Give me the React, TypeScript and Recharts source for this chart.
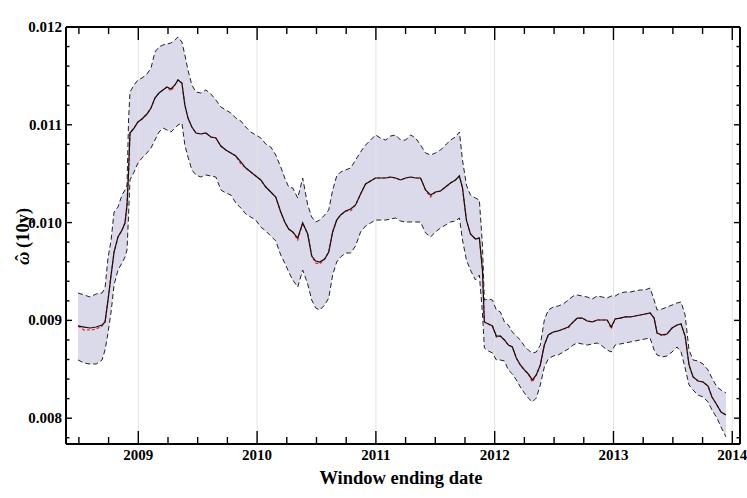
import React from 'react';
import { ComposedChart, XAxis, YAxis, Area, Line, ReferenceLine } from 'recharts';

// Window ending date (decimal years)
const dates = [
  2008.493, 2008.544, 2008.594, 2008.645, 2008.695, 2008.720, 2008.745, 2008.771, 2008.796, 2008.829,
  2008.863, 2008.888, 2008.905, 2008.918, 2008.930, 2008.964, 2008.997, 2009.031, 2009.073, 2009.107,
  2009.140, 2009.174, 2009.208, 2009.241, 2009.275, 2009.308, 2009.334, 2009.367, 2009.392, 2009.418,
  2009.451, 2009.485, 2009.527, 2009.569, 2009.611, 2009.653, 2009.695, 2009.737, 2009.779, 2009.821,
  2009.863, 2009.905, 2009.947, 2009.989, 2010.031, 2010.073, 2010.115, 2010.157, 2010.199, 2010.233,
  2010.266, 2010.300, 2010.342, 2010.384, 2010.426, 2010.460, 2010.493, 2010.527, 2010.569, 2010.603,
  2010.636, 2010.670, 2010.703, 2010.745, 2010.787, 2010.829, 2010.871, 2010.913, 2010.955, 2010.997,
  2011.039, 2011.082, 2011.124, 2011.166, 2011.208, 2011.250, 2011.292, 2011.334, 2011.376, 2011.418,
  2011.460, 2011.502, 2011.544, 2011.586, 2011.628, 2011.670, 2011.703, 2011.729, 2011.762, 2011.796,
  2011.838, 2011.871, 2011.897, 2011.913, 2011.947, 2011.981, 2012.014, 2012.048, 2012.082, 2012.115,
  2012.149, 2012.182, 2012.216, 2012.250, 2012.283, 2012.317, 2012.350, 2012.384, 2012.418, 2012.451,
  2012.493, 2012.535, 2012.577, 2012.619, 2012.661, 2012.695, 2012.737, 2012.779, 2012.821, 2012.863,
  2012.905, 2012.947, 2012.981, 2013.014, 2013.056, 2013.098, 2013.140, 2013.182, 2013.224, 2013.266,
  2013.308, 2013.342, 2013.367, 2013.409, 2013.451, 2013.493, 2013.535, 2013.569, 2013.603, 2013.636,
  2013.670, 2013.712, 2013.754, 2013.796, 2013.829, 2013.871, 2013.905, 2013.947,
];

// omega-hat estimate (black solid)
const omegaMid = [
  0.008943, 0.008932, 0.008922, 0.008932, 0.008953, 0.008984, 0.009208, 0.009464, 0.009699, 0.009853,
  0.009924, 0.009996, 0.010180, 0.010517, 0.010916, 0.010967, 0.011029, 0.011059, 0.011110, 0.011172,
  0.011274, 0.011325, 0.011356, 0.011386, 0.011366, 0.011407, 0.011458, 0.011427, 0.011202, 0.011069,
  0.010977, 0.010916, 0.010906, 0.010916, 0.010875, 0.010865, 0.010783, 0.010742, 0.010712, 0.010681,
  0.010620, 0.010558, 0.010517, 0.010476, 0.010436, 0.010364, 0.010313, 0.010262, 0.010108, 0.010006,
  0.009934, 0.009904, 0.009842, 0.009996, 0.009883, 0.009658, 0.009607, 0.009597, 0.009628, 0.009699,
  0.009904, 0.010026, 0.010078, 0.010118, 0.010139, 0.010180, 0.010292, 0.010395, 0.010425, 0.010456,
  0.010456, 0.010456, 0.010466, 0.010456, 0.010436, 0.010456, 0.010466, 0.010456, 0.010456, 0.010333,
  0.010282, 0.010313, 0.010323, 0.010364, 0.010405, 0.010436, 0.010476, 0.010354, 0.010026, 0.009883,
  0.009832, 0.009842, 0.009515, 0.008984, 0.008963, 0.008943, 0.008840, 0.008840, 0.008800, 0.008748,
  0.008728, 0.008615, 0.008544, 0.008493, 0.008452, 0.008391, 0.008442, 0.008544, 0.008748, 0.008851,
  0.008881, 0.008892, 0.008912, 0.008932, 0.008984, 0.009024, 0.009024, 0.008994, 0.008984, 0.009004,
  0.009004, 0.009004, 0.008932, 0.009014, 0.009024, 0.009035, 0.009035, 0.009045, 0.009055, 0.009065,
  0.009076, 0.009024, 0.008871, 0.008851, 0.008861, 0.008922, 0.008953, 0.008963, 0.008840, 0.008544,
  0.008421, 0.008380, 0.008370, 0.008329, 0.008217, 0.008135, 0.008063, 0.008033,
];

// alternative estimate (red dashed)
const omegaAlt = [
  0.008943, 0.008901, 0.008902, 0.008911, 0.008943, 0.008984, 0.009208, 0.009464, 0.009699, 0.009853,
  0.009924, 0.009996, 0.010180, 0.010517, 0.010916, 0.010967, 0.011029, 0.011059, 0.011110, 0.011172,
  0.011274, 0.011325, 0.011356, 0.011386, 0.011346, 0.011407, 0.011458, 0.011427, 0.011202, 0.011069,
  0.010977, 0.010916, 0.010906, 0.010916, 0.010875, 0.010865, 0.010783, 0.010742, 0.010712, 0.010681,
  0.010600, 0.010558, 0.010517, 0.010476, 0.010436, 0.010364, 0.010313, 0.010262, 0.010108, 0.010006,
  0.009934, 0.009904, 0.009822, 0.009996, 0.009883, 0.009658, 0.009587, 0.009577, 0.009628, 0.009699,
  0.009904, 0.010026, 0.010078, 0.010118, 0.010119, 0.010180, 0.010292, 0.010395, 0.010425, 0.010456,
  0.010456, 0.010456, 0.010466, 0.010456, 0.010436, 0.010456, 0.010466, 0.010456, 0.010456, 0.010333,
  0.010262, 0.010313, 0.010323, 0.010364, 0.010405, 0.010436, 0.010476, 0.010354, 0.010026, 0.009883,
  0.009832, 0.009842, 0.009515, 0.008984, 0.008963, 0.008943, 0.008830, 0.008840, 0.008800, 0.008748,
  0.008728, 0.008615, 0.008544, 0.008493, 0.008452, 0.008370, 0.008442, 0.008544, 0.008748, 0.008851,
  0.008881, 0.008892, 0.008912, 0.008922, 0.008984, 0.009024, 0.009024, 0.008994, 0.008984, 0.009004,
  0.009004, 0.009004, 0.008912, 0.009014, 0.009024, 0.009035, 0.009035, 0.009045, 0.009055, 0.009065,
  0.009076, 0.009024, 0.008871, 0.008841, 0.008861, 0.008922, 0.008953, 0.008963, 0.008840, 0.008544,
  0.008421, 0.008380, 0.008370, 0.008329, 0.008217, 0.008135, 0.008063, 0.008033,
];

// confidence band upper edge
const bandUpper = [
  0.009280, 0.009260, 0.009239, 0.009270, 0.009280, 0.009331, 0.009638, 0.009822, 0.010108, 0.010159,
  0.010282, 0.010333, 0.010384, 0.011049, 0.011335, 0.011407, 0.011458, 0.011478, 0.011519, 0.011581,
  0.011744, 0.011796, 0.011816, 0.011826, 0.011836, 0.011867, 0.011898, 0.011846, 0.011714, 0.011560,
  0.011407, 0.011335, 0.011325, 0.011356, 0.011315, 0.011254, 0.011182, 0.011151, 0.011121, 0.011069,
  0.011039, 0.010977, 0.010926, 0.010896, 0.010865, 0.010804, 0.010773, 0.010691, 0.010568, 0.010456,
  0.010364, 0.010354, 0.010251, 0.010456, 0.010180, 0.010057, 0.010006, 0.010026, 0.010078, 0.010129,
  0.010333, 0.010476, 0.010517, 0.010538, 0.010558, 0.010640, 0.010722, 0.010793, 0.010844, 0.010896,
  0.010865, 0.010844, 0.010885, 0.010896, 0.010844, 0.010844, 0.010896, 0.010865, 0.010793, 0.010712,
  0.010691, 0.010712, 0.010742, 0.010793, 0.010844, 0.010875, 0.010926, 0.010640, 0.010384, 0.010282,
  0.010251, 0.010231, 0.009771, 0.009208, 0.009219, 0.009208, 0.009106, 0.009086, 0.008984, 0.008953,
  0.008881, 0.008840, 0.008800, 0.008738, 0.008697, 0.008667, 0.008677, 0.008748, 0.009004, 0.009106,
  0.009137, 0.009147, 0.009168, 0.009208, 0.009249, 0.009260, 0.009249, 0.009239, 0.009219, 0.009249,
  0.009239, 0.009229, 0.009249, 0.009249, 0.009280, 0.009290, 0.009290, 0.009301, 0.009311, 0.009311,
  0.009331, 0.009208, 0.009106, 0.009116, 0.009137, 0.009157, 0.009178, 0.009188, 0.009055, 0.008697,
  0.008595, 0.008585, 0.008554, 0.008493, 0.008411, 0.008319, 0.008288, 0.008258,
];

// confidence band lower edge
const bandLower = [
  0.008595, 0.008564, 0.008554, 0.008554, 0.008595, 0.008697, 0.008871, 0.009086, 0.009362, 0.009515,
  0.009587, 0.009648, 0.009720, 0.010078, 0.010436, 0.010517, 0.010609, 0.010660, 0.010712, 0.010763,
  0.010844, 0.010926, 0.010967, 0.010947, 0.010926, 0.010967, 0.010998, 0.011018, 0.010793, 0.010671,
  0.010538, 0.010487, 0.010466, 0.010487, 0.010476, 0.010466, 0.010333, 0.010303, 0.010282, 0.010200,
  0.010149, 0.010088, 0.010057, 0.010026, 0.009955, 0.009914, 0.009863, 0.009812, 0.009669, 0.009587,
  0.009495, 0.009413, 0.009341, 0.009515, 0.009372, 0.009208, 0.009127, 0.009106, 0.009157, 0.009229,
  0.009464, 0.009597, 0.009648, 0.009689, 0.009689, 0.009761, 0.009904, 0.009965, 0.009996, 0.010026,
  0.010026, 0.010026, 0.010037, 0.010047, 0.010016, 0.010006, 0.010006, 0.010006, 0.010006, 0.009894,
  0.009853, 0.009904, 0.009945, 0.009975, 0.010006, 0.010016, 0.010047, 0.009822, 0.009618, 0.009515,
  0.009413, 0.009464, 0.009076, 0.008718, 0.008687, 0.008667, 0.008595, 0.008595, 0.008585, 0.008493,
  0.008452, 0.008391, 0.008319, 0.008258, 0.008206, 0.008166, 0.008206, 0.008339, 0.008523, 0.008605,
  0.008636, 0.008646, 0.008677, 0.008707, 0.008748, 0.008769, 0.008759, 0.008748, 0.008759, 0.008769,
  0.008738, 0.008697, 0.008677, 0.008748, 0.008759, 0.008769, 0.008779, 0.008789, 0.008800, 0.008810,
  0.008820, 0.008697, 0.008646, 0.008626, 0.008636, 0.008677, 0.008728, 0.008677, 0.008513, 0.008339,
  0.008288, 0.008237, 0.008217, 0.008166, 0.008084, 0.008002, 0.007910, 0.007808,
];

// ticks
const xTicks = [
  2008.5, 2008.75, 2009, 2009.25, 2009.5, 2009.75, 2010, 2010.25, 2010.5, 2010.75, 2011, 2011.25,
  2011.5, 2011.75, 2012, 2012.25, 2012.5, 2012.75, 2013, 2013.25, 2013.5, 2013.75, 2014,
];
const yearLines = [2009, 2010, 2011, 2012, 2013, 2014];
const yTicks = [
  0.0078, 0.008, 0.0082, 0.0084, 0.0086, 0.0088, 0.009, 0.0092, 0.0094, 0.0096, 0.0098,
  0.01, 0.0102, 0.0104, 0.0106, 0.0108, 0.011, 0.0112, 0.0114, 0.0116, 0.0118, 0.012,
];
const yLabels = ['0.008', '0.009', '0.010', '0.011', '0.012'];

const data = dates.map((t, i) => ({
  t,
  mid: omegaMid[i],
  alt: omegaAlt[i],
  up: bandUpper[i],
  low: bandLower[i],
  band: [bandLower[i], bandUpper[i]],
}));

const SERIF = '"Liberation Serif", "DejaVu Serif", serif';
const X_DOMAIN: [number, number] = [2008.3914, 2014.065];
const Y_DOMAIN: [number, number] = [0.007736, 0.012];

const isYear = (v: number) => Math.abs(v - Math.round(v)) < 1e-6;
const isMajorY = (v: number) => Math.abs(v * 1000 - Math.round(v * 1000)) < 1e-6;

const BottomTick = (props: any) => {
  const { x, y, payload } = props;
  const v = payload.value;
  const major = isYear(v);
  const len = major ? 13 : 7;
  return (
    <g>
      <line x1={x} y1={y} x2={x} y2={y - len} stroke="#000" strokeWidth={1.4} />
      {major && (
        <text x={x} y={y + 16} textAnchor="middle" fontFamily={SERIF} fontWeight="bold" fontSize={15} fill="#000">
          {String(Math.round(v))}
        </text>
      )}
    </g>
  );
};

const TopTick = (props: any) => {
  const { x, y, payload } = props;
  const major = isYear(payload.value);
  const len = major ? 13 : 7;
  return <line x1={x} y1={y} x2={x} y2={y + len} stroke="#000" strokeWidth={1.4} />;
};

const LeftTick = (props: any) => {
  const { x, y, payload } = props;
  const v = payload.value;
  const major = isMajorY(v);
  const len = major ? 6 : 3.5;
  const label = major ? yLabels[Math.round(v * 1000) - 8] : null;
  return (
    <g>
      <line x1={x} y1={y} x2={x + len} y2={y} stroke="#000" strokeWidth={1.4} />
      {label && (
        <text x={x - 4} y={y + 5} textAnchor="end" fontFamily={SERIF} fontWeight="bold" fontSize={15} fill="#000">
          {label}
        </text>
      )}
    </g>
  );
};

const RightTick = (props: any) => {
  const { x, y, payload } = props;
  const major = isMajorY(payload.value);
  const len = major ? 6 : 3.5;
  return <line x1={x} y1={y} x2={x - len} y2={y} stroke="#000" strokeWidth={1.4} />;
};

const XTitle = () => (
  <text x={401} y={484} textAnchor="middle" fontFamily={SERIF} fontWeight="bold" fontSize={18.5} fill="#000">
    Window ending date
  </text>
);

// rotated y title: drawn horizontally, then rotated about (cx, cy)
const YTitle = () => {
  const cx = 29;
  const cy = 236;
  const x0 = cx - 29;
  return (
    <g transform={`rotate(-90 ${cx} ${cy})`}>
      <text x={x0} y={cy} fontFamily={SERIF} fontStyle="italic" fontWeight="bold" fontSize={18.5} fill="#000">
        {'\u03C9'}
      </text>
      <text x={x0 + 7} y={cy - 1} textAnchor="middle" fontFamily={SERIF} fontWeight="bold" fontSize={18.5} fill="#000">
        {'\u02C6'}
      </text>
      <text x={x0 + 17} y={cy} fontFamily={SERIF} fontWeight="bold" fontSize={18.5} fill="#000">
        (10y)
      </text>
    </g>
  );
};

export default function App() {
  return (
    <div style={{ position: 'absolute', left: 0, top: 0, width: 747, height: 498, background: '#fff' }}>
      <ComposedChart width={747} height={498} data={data} margin={{ top: 0, right: 0, bottom: 0, left: 0 }}>
        <XAxis
          xAxisId="b"
          dataKey="t"
          type="number"
          domain={X_DOMAIN}
          allowDataOverflow
          ticks={xTicks}
          interval={0}
          tick={(p: any) => <BottomTick {...p} />}
          tickLine={false}
          tickSize={0}
          tickMargin={0}
          axisLine={{ stroke: '#000', strokeWidth: 2 }}
          height={54}
          label={() => <XTitle />}
        />
        <XAxis
          xAxisId="t"
          orientation="top"
          dataKey="t"
          type="number"
          domain={X_DOMAIN}
          allowDataOverflow
          ticks={xTicks}
          interval={0}
          tick={(p: any) => <TopTick {...p} />}
          tickLine={false}
          tickSize={0}
          tickMargin={0}
          axisLine={{ stroke: '#000', strokeWidth: 2 }}
          height={27}
        />
        <YAxis
          yAxisId="l"
          type="number"
          domain={Y_DOMAIN}
          allowDataOverflow
          ticks={yTicks}
          interval={0}
          tick={(p: any) => <LeftTick {...p} />}
          tickLine={false}
          tickSize={0}
          tickMargin={0}
          axisLine={{ stroke: '#000', strokeWidth: 2 }}
          width={66}
          label={() => <YTitle />}
        />
        <YAxis
          yAxisId="r"
          orientation="right"
          type="number"
          domain={Y_DOMAIN}
          allowDataOverflow
          ticks={yTicks}
          interval={0}
          tick={(p: any) => <RightTick {...p} />}
          tickLine={false}
          tickSize={0}
          tickMargin={0}
          axisLine={{ stroke: '#000', strokeWidth: 2 }}
          width={7}
        />
        {yearLines.map((yr) => (
          <ReferenceLine key={yr} x={yr} xAxisId="b" yAxisId="l" stroke="#e4e4e4" strokeWidth={1} />
        ))}
        <Area
          xAxisId="b"
          yAxisId="l"
          dataKey="band"
          type="linear"
          stroke="none"
          fill="#dadaea"
          fillOpacity={1}
          isAnimationActive={false}
        />
        <Line xAxisId="b" yAxisId="l" dataKey="up" type="linear" stroke="#222" strokeWidth={1} strokeDasharray="5 3" dot={false} isAnimationActive={false} />
        <Line xAxisId="b" yAxisId="l" dataKey="low" type="linear" stroke="#222" strokeWidth={1} strokeDasharray="5 3" dot={false} isAnimationActive={false} />
        <Line xAxisId="b" yAxisId="l" dataKey="alt" type="linear" stroke="#ff1a1a" strokeWidth={1.2} strokeDasharray="3 2" dot={false} isAnimationActive={false} />
        <Line xAxisId="b" yAxisId="l" dataKey="mid" type="linear" stroke="#111" strokeWidth={1.2} dot={false} isAnimationActive={false} />
      </ComposedChart>
    </div>
  );
}
